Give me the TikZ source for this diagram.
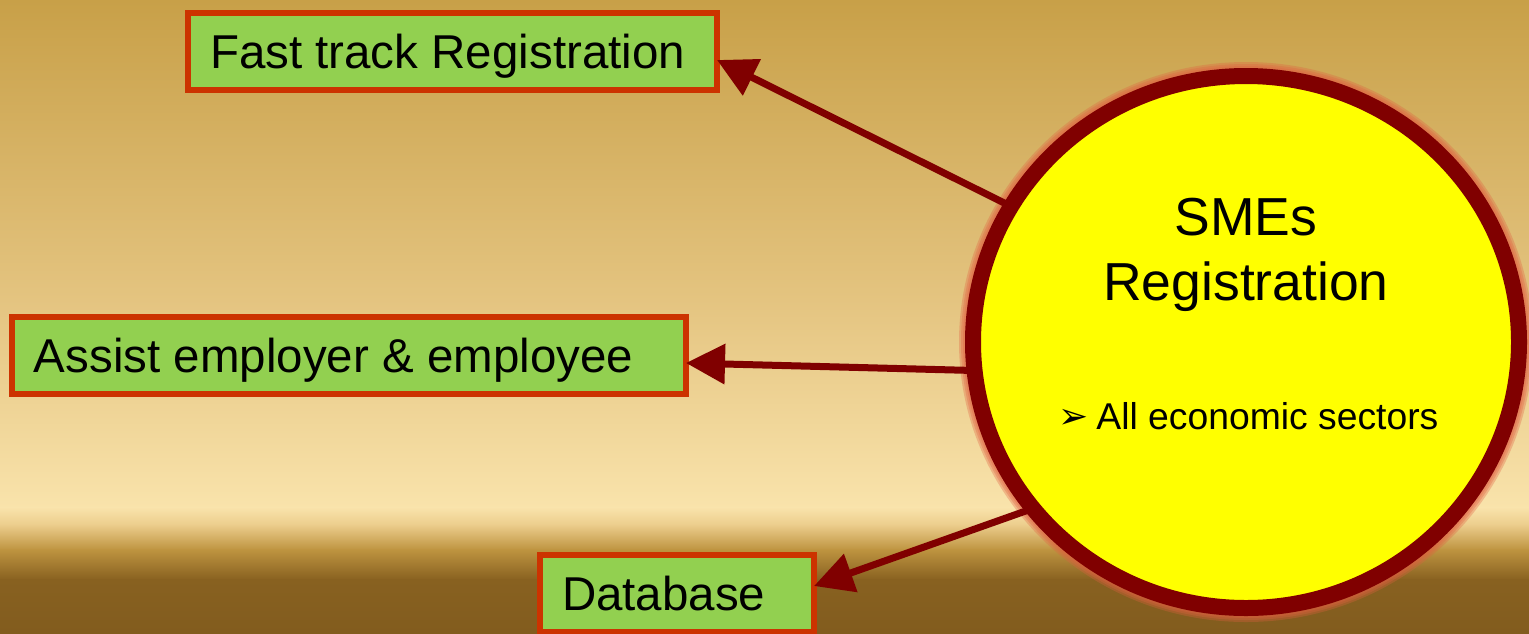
\documentclass[tikz,border=0pt]{standalone}
\usepackage{fontspec}
\setmainfont{Liberation Sans}
\newfontfamily\symfont{DejaVu Sans}
\usetikzlibrary{arrows.meta,shapes.geometric}
\definecolor{boxred}{RGB}{204,51,0}
\definecolor{boxgreen}{RGB}{146,208,80}
\definecolor{darkred}{RGB}{128,0,0}
\definecolor{sunyellow}{RGB}{255,255,0}
\definecolor{glow}{RGB}{225,95,65}
\definecolor{bgA}{RGB}{200,160,72}
\definecolor{bgB}{RGB}{228,196,128}
\definecolor{bgC}{RGB}{249,227,171}
\definecolor{bgD}{RGB}{236,205,140}
\definecolor{bgE}{RGB}{190,148,64}
\definecolor{bgF}{RGB}{136,97,32}
\definecolor{bgG}{RGB}{130,92,30}
\begin{document}
\begin{tikzpicture}[x=1pt,y=-1pt,
  boxnode/.style={draw=boxred, fill=boxgreen, line width=6pt, minimum height=77pt,
    inner xsep=22pt, inner ysep=0pt, outer sep=0pt, text height=34pt, text depth=0pt,
    anchor=west, font=\fontsize{47.5}{58}\selectfont},
  link/.style={draw=darkred, line width=7pt, -{Triangle[length=39pt,width=39pt]}},
  glowring/.style={draw=glow, opacity=0.32}]
\useasboundingbox (0,0) rectangle (1529,633);
% background
\shade[top color=bgA, bottom color=bgB] (0,0) rectangle (1529,300);
\shade[top color=bgB, bottom color=bgC] (0,299.5) rectangle (1529,508);
\shade[top color=bgC, bottom color=bgD] (0,507.5) rectangle (1529,525);
\shade[top color=bgD, bottom color=bgE] (0,524.5) rectangle (1529,550);
\shade[top color=bgE, bottom color=bgF] (0,549.5) rectangle (1529,580);
\shade[top color=bgF, bottom color=bgG] (0,579.5) rectangle (1529,633);
% glow
\draw[glowring, line width=28pt] (1246,342) ellipse [x radius=273, y radius=266];
\draw[glowring, line width=24pt] (1246,342) ellipse [x radius=273, y radius=266];
\draw[glowring, line width=20pt] (1246,342) ellipse [x radius=273, y radius=266];
% main circle
\node[ellipse, draw=darkred, fill=sunyellow, line width=16pt, minimum width=546pt,
  minimum height=532pt, inner sep=0pt, outer sep=0pt] (sun) at (1246,342) {};
\node[anchor=base, font=\fontsize{53.5}{64}\selectfont] (smes) at (1246,235) {SMEs};
\node[anchor=base, font=\fontsize{53.5}{64}\selectfont] (reg) at (1246,300) {Registration};
\node[anchor=base west, inner sep=0pt, font=\fontsize{37.3}{44}\selectfont] (sectors) at (1058,429)
  {\raisebox{1pt}{\symfont\fontsize{36}{40}\selectfont ➢}\hspace{8pt}All economic sectors};
% boxes
\node[boxnode] (fast) at (188,51.5) {\makebox[485pt][l]{Fast track Registration}};
\node[boxnode] (assist) at (12,355) {\makebox[630pt][l]{Assist employer \& employee}};
\node[boxnode] (db) at (540,593.5) {\makebox[230pt][l]{Database}};
% arrows
\draw[link] (sun.150) -- ([yshift=-8.5pt]fast.east);
\draw[link] (sun.186) -- ([yshift=-8pt]assist.east);
\draw[link] (sun.218) -- ([yshift=7.5pt]db.east);
\end{tikzpicture}
\end{document}
